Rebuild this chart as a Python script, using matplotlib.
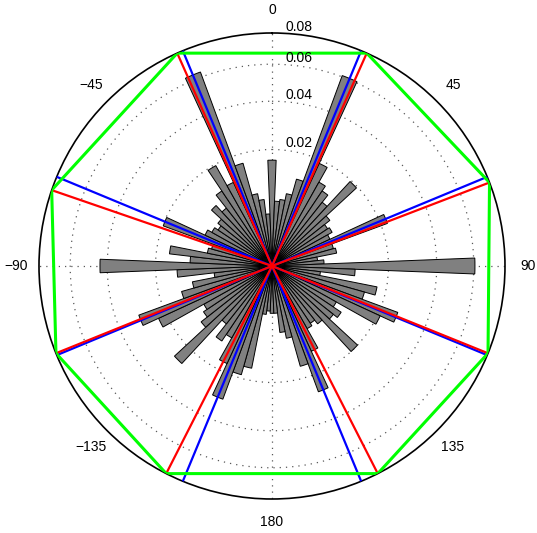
import numpy as np
import matplotlib.pyplot as plt
from matplotlib.transforms import ScaledTranslation

plt.rcParams['font.family'] = ['Liberation Sans', 'DejaVu Sans']

# histogram bins (deg, clockwise from north) and fractions
bin_deg = np.arange(-180, 180, 4.5)
frac = [0.0033, 0.0030, 0.0035, 0.0160, 0.0188, 0.0297, 0.0170, 0.0100,
        0.0120, 0.0080, 0.0260, 0.0120, 0.0100, 0.0090, 0.0230, 0.0297,
        0.0130, 0.0097, 0.0050, 0.0133, 0.0436, 0.0099, 0.0157, 0.0064,
        0.0058, 0.0198, 0.0080, 0.0070, 0.0062, 0.0070, 0.0100, 0.0080,
        0.0120, 0.0195, 0.0125, 0.0630, 0.0168, 0.0080, 0.0066, 0.0040,
        0.0165, 0.0062, 0.0066, 0.0080, 0.0120, 0.0607, 0.0188, 0.0136,
        0.0120, 0.0097, 0.0195, 0.0080, 0.0066, 0.0070, 0.0060, 0.0223,
        0.0060, 0.0064, 0.0031, 0.0040, 0.0607, 0.0102, 0.0035, 0.0169,
        0.0136, 0.0265, 0.0209, 0.0080, 0.0102, 0.0090, 0.0200, 0.0080,
        0.0070, 0.0076, 0.0130, 0.0265, 0.0160, 0.0080, 0.0066, 0.0033]

# reference directions
blue_deg = [-157.5, -112.5, -67.5, -22.5, 22.5, 67.5, 112.5, 157.5]
red_deg = [-153, -112, -71, -24, 24, 69, 112, 153]
r_max = 0.08

r_ticks = [0.02, 0.04, 0.06, 0.08]
theta_ticks = [0, 45, 90, 135, 180, -135, -90, -45]
theta_labels = ['0', '45', '90', '135', '180', '\u2212135', '\u221290', '\u221245']

fig = plt.figure(figsize=(5.37, 5.33), dpi=100)
ax = fig.add_axes([0.0726, 0.0638, 0.8678, 0.8743], projection='polar')
ax.set_theta_zero_location('N')
ax.set_theta_direction(-1)
ax.set_rscale('function', functions=(np.sqrt, np.square))

th = np.deg2rad(bin_deg)
ax.bar(th, frac, width=np.deg2rad(4.5), bottom=0, color='#808080',
       edgecolor='black', linewidth=0.7, zorder=2)

for d in blue_deg:
    ax.plot([0, np.deg2rad(d)], [0, r_max], color='#0000ff', lw=1.6, zorder=3)
for d in red_deg:
    ax.plot([0, np.deg2rad(d)], [0, r_max], color='#ff0000', lw=1.6, zorder=4)

oct_th = np.deg2rad(red_deg + red_deg[:1])
ax.plot(oct_th, [r_max] * len(oct_th), color='#00ff00', lw=2.2, zorder=5)

ax.set_ylim(0, r_max)
ax.set_rgrids(r_ticks[:-1], labels=[''] * 3)
ax.set_thetagrids([0, 90, 180, 270], labels=[''] * 4)
ax.grid(True, color='0.35', linestyle=(0, (1, 4)), linewidth=0.9)
ax.spines['polar'].set_linewidth(1.2)

for t, lab in zip(theta_ticks, theta_labels):
    ax.text(np.deg2rad(t), 0.0965, lab, ha='center', va='center', fontsize=10)

off = ScaledTranslation(14 / 100, 2 / 100, fig.dpi_scale_trans)
for r in r_ticks:
    ax.text(0, r, f'{r:.2f}', transform=ax.transData + off, ha='left',
            va='baseline', fontsize=10, zorder=6)

fig.savefig('out.png', dpi=100)
